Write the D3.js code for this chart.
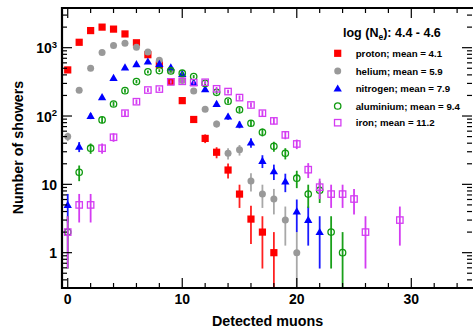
<!DOCTYPE html>
<html><head><meta charset="utf-8">
<script src="https://cdn.jsdelivr.net/npm/d3@7/dist/d3.min.js"></script>
<style>
html,body{margin:0;padding:0;background:#fff;}
text{font-family:"Liberation Sans",Arial,Helvetica,sans-serif;font-weight:bold;fill:#000;}
</style></head>
<body>
<svg id="c" width="473" height="328"></svg>
<script>
// ---- data ----
const muons = [0,1,2,3,4,5,6,7,8,9,10,11,12,13,14,15,16,17,18,19,20,21,22,23,24,25,26,27,28,29];
const proton    = [473,1200,1780,2000,1870,1590,1180,790,560,319,168,89,47,29.5,16.2,7.2,3.1,2.0,1.0];
const helium    = [50,239,501,848,1073,1164,1017,868,656,470,330,232,126,76.6,28.5,32,11.2,7.2,6.1,3.0,1.0];
const nitrogen  = [5,35.6,100,188,361,512,573,626,579,512,413,308,247,150,98,74.8,40.8,22,15.5,11,4,3,2];
const aluminium = [2,15,33.8,87.7,150,235,319,443,462,457,423,378,300,222,165,123,78.4,57.9,36,28.5,12.3,7.2,8.2,2,1];
const iron      = [2,5,5,33.8,48.9,110,162,240,248,316,322,308,312,250,228,186,145,110,84.8,52.9,39,16.4,9.1,7.2,7.2,6.1,2,null,null,3];
const seriesNames = ["proton","helium","nitrogen","aluminium","iron"];
const seriesMeans = ["4.1","5.9","7.9","9.4","11.2"];
const xTickLabels = ["0","10","20","30"];
const yTickLabels = [["1",""],["10",""],["10","2"],["10","3"]];
const legendTitle = ["log (N","e","): 4.4 - 4.6"];
const xTitle = "Detected muons";
const yTitle = "Number of showers";

// ---- layout ----
const L=62, R=472, T=8, B=288;
const svg = d3.select("#c");
const x = d3.scaleLinear().domain([-0.5,35.3]).range([L,R]);
const y = d3.scaleLog().domain([0.304,3810]).range([B,T]);

const styles = [
  {name:"proton",   col:"#ff0000", bar:"#ff2020", shape:"sq",  fill:true},
  {name:"helium",   col:"#999999", bar:"#a8a8a8", shape:"ci",  fill:true},
  {name:"nitrogen", col:"#0000ff", bar:"#1a1aff", shape:"tri", fill:true},
  {name:"aluminium",col:"#0f9a0f", bar:"#1aa01a", shape:"ci",  fill:false},
  {name:"iron",     col:"#d43cf2", bar:"#d43cf2", shape:"sq",  fill:false}
];
const data = [proton, helium, nitrogen, aluminium, iron];

svg.append("defs").append("clipPath").attr("id","clip")
  .append("rect").attr("x",L).attr("y",T).attr("width",R-L).attr("height",B-T);

const plot = svg.append("g").attr("clip-path","url(#clip)");

function drawMarker(g, st, cx, cy){
  if(st.shape==="sq"){
    if(st.fill) g.append("rect").attr("x",cx-3.6).attr("y",cy-3.6).attr("width",7.2).attr("height",7.2).attr("fill",st.col);
    else g.append("rect").attr("x",cx-3.2).attr("y",cy-3.2).attr("width",6.4).attr("height",6.4).attr("fill","#fff").attr("fill-opacity",0).attr("stroke",st.col).attr("stroke-width",1.3);
  } else if(st.shape==="ci"){
    if(st.fill) g.append("circle").attr("cx",cx).attr("cy",cy).attr("r",3.5).attr("fill",st.col);
    else g.append("circle").attr("cx",cx).attr("cy",cy).attr("r",3.2).attr("fill","none").attr("stroke",st.col).attr("stroke-width",1.3);
  } else {
    g.append("path").attr("transform",`translate(${cx},${cy+0.6})`)
      .attr("d", d3.symbol().type(d3.symbolTriangle).size(30)()).attr("fill",st.col);
  }
}

data.forEach((vals,si)=>{
  const st = styles[si];
  const g = plot.append("g");
  vals.forEach((v,i)=>{
    if(v==null) return;
    const e = Math.sqrt(v);
    const lo = v-e;
    const yl = lo>0.304 ? y(lo) : B+2;
    g.append("line").attr("x1",x(muons[i])).attr("x2",x(muons[i]))
      .attr("y1",y(v+e)).attr("y2",yl).attr("stroke",st.bar).attr("stroke-width",1.8);
  });
  vals.forEach((v,i)=>{
    if(v==null) return;
    drawMarker(g, st, x(muons[i]), y(v));
  });
});

// ---- axes / frame ----
const ax = svg.append("g").attr("stroke","#000");
// x ticks (bottom & top, inward)
d3.range(0,36,2).forEach(t=>{
  const major = t%10===0;
  const len = major?10:5;
  ax.append("line").attr("x1",x(t)).attr("x2",x(t)).attr("y1",B).attr("y2",B-len).attr("stroke-width",1.2);
  ax.append("line").attr("x1",x(t)).attr("x2",x(t)).attr("y1",T).attr("y2",T+len).attr("stroke-width",1.2);
});
// y ticks (left & right, inward)
const yt=[];
[0.1,1,10,100,1000].forEach(d=>{ for(let k=1;k<10;k++){ const v=k*d; if(v>=0.304 && v<=3810) yt.push({v, major:k===1}); } });
yt.forEach(t=>{
  const len = t.major?10:5;
  ax.append("line").attr("x1",L).attr("x2",L+len).attr("y1",y(t.v)).attr("y2",y(t.v)).attr("stroke-width",1.2);
  ax.append("line").attr("x1",R).attr("x2",R-len).attr("y1",y(t.v)).attr("y2",y(t.v)).attr("stroke-width",1.2);
});
// frame lines
ax.append("line").attr("x1",L).attr("x2",R+2).attr("y1",B).attr("y2",B).attr("stroke-width",2.2);
ax.append("line").attr("x1",L).attr("x2",R+2).attr("y1",T).attr("y2",T).attr("stroke-width",2.2);
ax.append("line").attr("x1",L).attr("x2",L).attr("y1",T-1.1).attr("y2",B+1.1).attr("stroke-width",2.2);

// tick labels
[0,10,20,30].forEach((t,i)=>{
  svg.append("text").attr("x",x(t)).attr("y",304).attr("text-anchor","middle")
    .style("font-size","14px").text(xTickLabels[i]);
});
[1,10,100,1000].forEach((v,i)=>{
  const tx = svg.append("text").attr("x",57).attr("y",y(v)+5.5).attr("text-anchor","end").style("font-size","14px");
  tx.append("tspan").text(yTickLabels[i][0]);
  if(yTickLabels[i][1]) tx.append("tspan").attr("dy",-5.5).style("font-size","9.5px").text(yTickLabels[i][1]);
});

// axis titles
svg.append("text").attr("x",267.5).attr("y",326).attr("text-anchor","middle").style("font-size","14.3px").text(xTitle);
svg.append("text").attr("transform","translate(23,147.5) rotate(-90)").attr("text-anchor","middle").style("font-size","14.3px").text(yTitle);

// legend
const lt = svg.append("text").attr("x",343).attr("y",37.3).style("font-size","12.5px");
lt.append("tspan").text(legendTitle[0]);
lt.append("tspan").attr("dy",3).style("font-size","8.5px").text(legendTitle[1]);
lt.append("tspan").attr("dy",-3).text(legendTitle[2]);
const rowsY = [53.3,71,88.6,106,122.7];
seriesNames.forEach((n,i)=>{
  const g = svg.append("g");
  drawMarker(g, styles[i], 337.7, rowsY[i]);
  svg.append("text").attr("x",355.7).attr("y",rowsY[i]+3.5).style("font-size","9.7px")
    .text(`${n}; mean = ${seriesMeans[i]}`);
});
</script>
</body></html>
